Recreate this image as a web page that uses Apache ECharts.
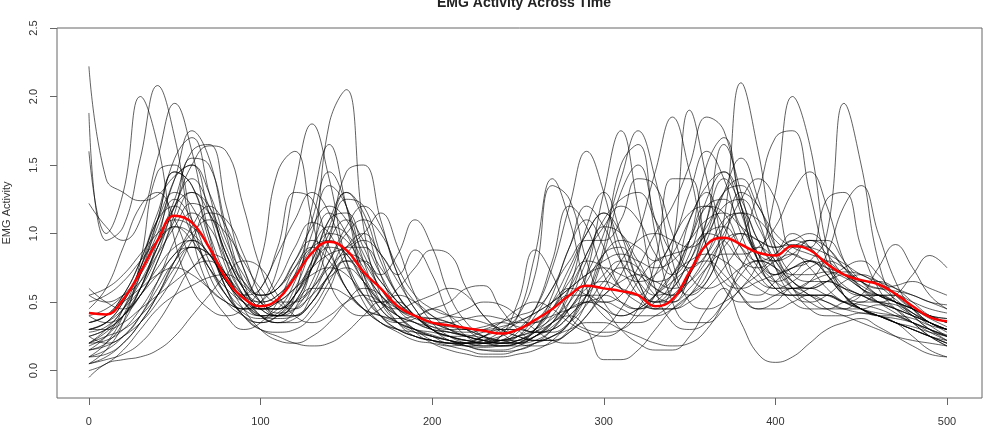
<!DOCTYPE html>
<html>
<head>
<meta charset="utf-8">
<script src="https://cdn.jsdelivr.net/npm/echarts@6/dist/echarts.min.js"></script>
<style>
html,body{margin:0;padding:0;background:#fff;}
#chart{width:987px;height:446px;}
</style>
</head>
<body>
<div id="chart"></div>
<script>
const titleText = "EMG Activity Across Time";
const yName = "EMG Activity";
const xTicks = [0, 100, 200, 300, 400, 500];
const yTicks = [0, 0.5, 1, 1.5, 2, 2.5];
const times = [0,10,20,30,40,50,60,70,80,90,100,110,120,130,140,150,160,170,180,190,200,210,220,230,240,250,260,270,280,290,300,310,320,330,340,350,360,370,380,390,400,410,420,430,440,450,460,470,480,490,500];

const curve01 = [2.22,1.40,1.30,1.24,1.28,1.42,1.50,1.30,0.95,0.70, 0.55,0.60,0.80,1.05,1.20,1.10,0.85,0.60,0.45,0.40, 0.38,0.35,0.30,0.25,0.22,0.25,0.35,0.50,0.60,0.55, 0.45,0.40,0.45,0.55,0.70,0.95,1.20,1.25,1.05,0.85, 0.80,0.90,0.95,0.85,0.70,0.65,0.65,0.60,0.50,0.40, 0.35];
const curve02 = [1.88,0.95,1.05,1.55,2.08,1.70,1.00,0.60,0.40,0.30, 0.35,0.50,0.75,0.90,0.80,0.60,0.45,0.35,0.28,0.22, 0.20,0.18,0.20,0.25,0.30,0.40,0.70,1.35,1.25,0.80, 0.50,0.40,0.45,0.55,0.65,0.75,0.80,0.70,0.55,0.45, 0.50,0.60,0.55,0.45,0.40,0.35,0.30,0.25,0.22,0.20, 0.18];
const curve03 = [1.60,1.00,1.30,2.00,1.65,0.95,0.60,0.45,0.40,0.45, 0.60,0.85,1.10,1.30,1.15,0.80,0.55,0.40,0.35,0.38, 0.45,0.40,0.30,0.22,0.18,0.20,0.30,0.50,0.75,1.00, 1.15,1.00,0.75,0.55,0.50,0.70,1.10,1.40,1.20,0.85, 0.70,0.75,0.80,0.70,0.55,0.50,0.55,0.55,0.45,0.35, 0.30];
const curve04 = [1.22,1.05,0.95,1.10,1.55,1.95,1.60,1.00,0.60,0.40, 0.35,0.40,0.55,0.80,1.00,0.95,0.75,0.55,0.45,0.40, 0.35,0.30,0.28,0.30,0.35,0.40,0.45,0.60,0.90,1.20, 1.05,0.80,0.65,0.55,0.60,0.80,1.00,0.95,0.80,0.75, 0.85,1.00,0.90,0.70,0.55,0.45,0.40,0.38,0.35,0.30, 0.25];
const curve05 = [0.30,0.35,0.50,0.75,1.05,1.40,1.75,1.55,1.00,0.60, 0.40,0.35,0.45,0.80,1.80,2.05,1.05,0.55,0.35,0.25, 0.22,0.20,0.20,0.25,0.30,0.30,0.28,0.30,0.40,0.55, 0.70,0.80,0.75,0.60,0.55,0.65,0.85,1.10,1.15,0.95, 0.75,0.60,0.55,0.55,0.50,0.45,0.40,0.35,0.30,0.25, 0.22];
const curve06 = [0.20,0.30,0.45,0.65,0.90,1.20,1.50,1.64,1.60,1.20, 0.75,0.50,0.45,0.60,0.95,1.45,1.50,1.10,0.70,0.50, 0.40,0.35,0.30,0.25,0.22,0.20,0.22,0.30,0.45,0.60, 0.65,0.60,0.55,0.50,0.60,0.80,1.00,1.05,0.90,0.80, 0.85,0.95,0.90,0.75,0.60,0.55,0.55,0.50,0.45,0.40, 0.38];
const curve07 = [0.15,0.25,0.45,0.75,1.10,1.20,1.00,0.75,0.55,0.45, 0.50,0.75,1.35,1.80,1.40,0.80,0.50,0.35,0.30,0.28, 0.25,0.22,0.20,0.18,0.20,0.25,0.40,0.60,0.80,0.95, 0.95,1.10,1.40,1.35,1.00,0.70,0.60,0.65,0.75,0.80, 0.75,0.65,0.55,0.50,0.45,0.42,0.40,0.35,0.30,0.25, 0.20];
const curve08 = [0.35,0.40,0.55,0.80,1.15,1.45,1.35,1.00,0.70,0.55, 0.80,1.45,1.60,1.10,0.65,0.45,0.40,0.45,0.55,0.50, 0.40,0.30,0.25,0.22,0.20,0.22,0.30,0.45,0.55,0.55, 0.50,0.55,0.75,1.00,1.20,1.50,1.85,1.75,1.20,0.80, 0.60,0.55,0.55,0.50,0.45,0.45,0.48,0.45,0.40,0.35, 0.30];
const curve09 = [0.25,0.30,0.40,0.60,0.95,1.40,1.50,1.15,0.75,0.50, 0.40,0.40,0.55,1.20,1.65,1.20,0.65,0.40,0.30,0.25, 0.22,0.20,0.18,0.17,0.18,0.20,0.25,0.35,0.45,0.50, 0.50,0.45,0.40,0.40,0.45,0.55,0.70,1.10,2.10,1.60, 0.90,0.65,0.60,0.65,0.70,0.65,0.55,0.50,0.45,0.40, 0.35];
const curve10 = [0.10,0.20,0.40,0.70,1.10,1.55,1.70,1.30,0.80,0.55, 0.45,0.45,0.50,0.60,0.75,0.85,0.80,0.65,0.50,0.40, 0.30,0.25,0.22,0.20,0.18,0.18,0.20,0.25,0.35,0.70, 1.30,1.75,1.20,0.60,0.35,0.30,0.35,0.50,0.70,0.80, 0.75,0.60,0.50,0.45,0.45,0.50,0.50,0.45,0.35,0.25, 0.18];
const curve11 = [0.40,0.45,0.55,0.70,0.95,1.25,1.60,1.65,1.20,0.75, 0.50,0.40,0.40,0.50,0.70,0.90,0.90,0.75,0.55,0.40, 0.30,0.25,0.25,0.28,0.30,0.30,0.28,0.30,0.40,0.55, 0.90,1.50,1.65,1.00,0.50,0.35,0.35,0.45,0.60,0.70, 0.80,0.85,0.75,0.60,0.50,0.45,0.42,0.40,0.35,0.28, 0.22];
const curve12 = [0.05,0.15,0.35,0.80,1.45,1.50,1.10,0.70,0.50,0.40, 0.35,0.40,0.50,0.60,0.60,0.55,0.45,0.40,0.35,0.30, 0.25,0.22,0.20,0.20,0.22,0.25,0.30,0.38,0.50,0.70, 1.00,1.40,1.75,1.40,0.80,0.50,0.45,0.50,0.60,0.80, 1.30,2.00,1.65,0.90,0.55,0.45,0.40,0.35,0.30,0.25, 0.20];
const curve13 = [0.30,0.35,0.45,0.60,0.85,1.20,1.40,1.20,0.85,0.60, 0.45,0.40,0.45,0.65,0.95,1.10,0.95,0.70,0.50,0.40, 0.35,0.30,0.25,0.22,0.20,0.22,0.28,0.35,0.45,0.55, 0.55,0.50,0.45,0.55,0.90,1.90,1.40,0.80,0.60,0.55, 0.65,0.75,0.80,0.70,0.55,0.45,0.40,0.40,0.38,0.33, 0.30];
const curve14 = [0.45,0.60,0.90,1.20,1.30,1.10,0.80,0.60,0.50,0.45, 0.45,0.50,0.60,0.70,0.75,0.70,0.55,0.40,0.30,0.25, 0.22,0.20,0.20,0.22,0.25,0.30,0.35,0.40,0.45,0.50, 0.55,0.70,1.00,1.45,1.85,1.45,0.90,0.65,0.60,0.65, 0.70,0.75,0.80,1.00,1.95,1.50,0.80,0.50,0.40,0.30, 0.22];
const curve15 = [0.55,0.50,0.55,0.65,0.85,1.05,1.22,1.15,0.85,0.60, 0.50,0.55,0.70,1.10,1.45,1.20,0.70,0.45,0.35,0.30, 0.28,0.25,0.22,0.20,0.22,0.30,0.45,0.75,1.20,1.60, 1.30,0.80,0.55,0.45,0.45,0.50,0.60,0.75,0.95,1.30, 1.70,1.75,1.30,0.80,0.55,0.45,0.40,0.35,0.32,0.28, 0.25];
const curve16 = [0.20,0.25,0.30,0.40,0.55,0.75,0.90,0.85,0.70,0.55, 0.60,0.90,1.30,1.25,0.90,0.60,0.45,0.35,0.30,0.25, 0.22,0.20,0.18,0.20,0.25,0.40,0.85,1.40,1.10,0.60, 0.40,0.35,0.35,0.40,0.50,0.70,1.10,1.65,1.30,0.80, 0.60,0.55,0.55,0.55,0.50,0.48,0.45,0.40,0.35,0.30, 0.25];
const curve17 = [0.10,0.15,0.25,0.40,0.60,0.80,0.90,0.85,0.70,0.55, 0.45,0.45,0.55,0.75,1.05,1.30,1.10,0.70,0.45,0.35, 0.30,0.28,0.25,0.22,0.22,0.28,0.45,0.80,1.20,1.05, 0.70,0.50,0.45,0.50,0.65,0.95,1.50,1.70,1.20,0.80, 0.65,0.60,0.65,0.85,1.20,1.35,1.00,0.65,0.45,0.35, 0.30];
const curve18 = [0.25,0.30,0.40,0.55,0.75,0.90,0.95,0.85,0.65,0.50, 0.40,0.40,0.50,0.75,1.10,1.15,0.90,0.70,0.85,1.10, 0.90,0.55,0.35,0.25,0.20,0.20,0.25,0.35,0.60,1.05, 1.30,1.00,0.65,0.50,0.50,0.60,0.75,0.85,0.85,0.90, 1.05,1.30,1.45,1.20,0.80,0.60,0.50,0.45,0.40,0.35, 0.30];
const curve19 = [0.15,0.20,0.35,0.60,0.90,1.05,0.95,0.75,0.60,0.50, 0.45,0.50,0.60,0.75,0.85,0.90,1.00,1.15,0.90,0.55, 0.35,0.25,0.20,0.18,0.18,0.20,0.30,0.55,0.90,1.10, 0.90,0.60,0.55,0.80,1.40,1.40,0.90,0.60,0.50,0.50, 0.55,0.60,0.60,0.55,0.50,0.45,0.40,0.35,0.30,0.25, 0.20];
const curve20 = [0.35,0.40,0.50,0.60,0.70,0.75,0.70,0.60,0.50,0.45, 0.50,0.65,0.90,1.08,1.00,0.75,0.55,0.50,0.60,0.75, 0.88,0.85,0.60,0.40,0.30,0.25,0.22,0.25,0.35,0.55, 0.85,0.90,0.65,0.45,0.60,1.10,1.30,0.90,0.55,0.45, 0.45,0.50,0.55,0.55,0.50,0.55,0.75,0.92,0.75,0.55, 0.45];
const curve21 = [0.05,0.10,0.20,0.35,0.55,0.80,0.95,0.85,0.65,0.50, 0.40,0.38,0.40,0.50,0.70,0.90,1.00,0.85,0.70,0.88, 0.70,0.40,0.25,0.20,0.25,0.50,0.88,0.70,0.40,0.30, 0.28,0.30,0.40,0.55,0.70,0.80,0.85,0.80,0.70,0.60, 0.55,0.55,0.60,0.65,0.60,0.55,0.50,0.55,0.70,0.84, 0.75];
const curve22 = [0.30,0.30,0.35,0.45,0.55,0.65,0.75,0.85,0.80,0.65, 0.55,0.60,0.80,0.95,0.85,0.60,0.45,0.40,0.38,0.40, 0.45,0.50,0.60,0.62,0.45,0.30,0.22,0.22,0.30,0.50, 0.85,1.30,1.50,1.10,0.70,0.55,0.65,0.95,1.30,1.20, 0.90,0.70,0.65,0.65,0.60,0.55,0.50,0.45,0.40,0.35, 0.30];
const curve23 = [0.00,0.05,0.15,0.30,0.45,0.55,0.62,0.68,0.70,0.62, 0.50,0.42,0.45,0.55,0.68,0.75,0.65,0.50,0.45,0.50, 0.55,0.60,0.55,0.40,0.28,0.20,0.18,0.20,0.28,0.40, 0.55,0.65,0.70,0.65,0.60,0.65,0.80,1.00,1.25,1.40, 1.25,0.90,0.90,1.25,1.30,0.90,0.60,0.45,0.35,0.25, 0.18];
const curve24 = [-0.05,0.05,0.08,0.10,0.15,0.25,0.40,0.55,0.70,0.80, 0.75,0.55,0.40,0.35,0.40,0.50,0.55,0.50,0.40,0.30, 0.22,0.18,0.15,0.12,0.12,0.15,0.20,0.25,0.30,0.35, 0.35,0.30,0.25,0.20,0.18,0.20,0.30,0.50,0.75,0.90, 0.80,0.60,0.45,0.40,0.40,0.42,0.40,0.35,0.25,0.15, 0.10];
const curve25 = [0.05,0.08,0.12,0.20,0.35,0.55,0.75,0.80,0.65,0.45, 0.30,0.22,0.20,0.25,0.35,0.50,0.60,0.55,0.40,0.28, 0.20,0.15,0.12,0.10,0.10,0.12,0.15,0.22,0.35,0.50, 0.45,0.30,0.20,0.15,0.15,0.25,0.45,0.60,0.35,0.12, 0.06,0.10,0.20,0.30,0.35,0.38,0.32,0.25,0.18,0.12, 0.10];
const curve26 = [0.20,0.22,0.30,0.45,0.65,0.85,0.90,0.75,0.55,0.40, 0.30,0.25,0.20,0.18,0.20,0.28,0.40,0.50,0.50,0.40, 0.30,0.22,0.18,0.15,0.15,0.18,0.25,0.35,0.40,0.30, 0.08,0.08,0.15,0.30,0.45,0.55,0.65,0.90,1.00,0.85, 0.65,0.50,0.45,0.45,0.50,0.55,0.55,0.50,0.40,0.30, 0.25];
const curve27 = [0.50,0.55,0.65,0.80,0.95,1.05,1.00,0.85,0.65,0.50, 0.40,0.35,0.35,0.45,0.65,0.85,0.95,0.85,0.65,0.45, 0.30,0.25,0.22,0.25,0.35,0.45,0.50,0.45,0.35,0.28, 0.25,0.30,0.45,0.70,0.95,1.15,1.20,1.05,0.80,0.65, 0.60,0.65,0.75,0.80,0.75,0.65,0.60,0.58,0.55,0.50, 0.48];
const curve28 = [0.20,0.28,0.40,0.55,0.70,0.85,1.00,1.10,1.00,0.80, 0.60,0.50,0.50,0.60,0.80,1.00,1.10,1.00,0.75,0.55, 0.45,0.40,0.38,0.35,0.30,0.25,0.22,0.22,0.28,0.40, 0.60,0.80,0.95,1.00,0.95,0.90,1.00,1.20,1.25,1.05, 0.80,0.65,0.60,0.65,0.75,0.80,0.70,0.55,0.45,0.40, 0.38];
const curve29 = [0.60,0.50,0.45,0.55,0.80,1.10,1.30,1.20,0.90,0.65, 0.55,0.60,0.75,0.90,0.95,0.85,0.65,0.50,0.40,0.35, 0.32,0.30,0.30,0.32,0.35,0.32,0.28,0.28,0.35,0.48, 0.65,0.75,0.70,0.60,0.55,0.70,1.00,1.30,1.40,1.20, 1.00,0.90,0.85,0.80,0.70,0.60,0.55,0.55,0.50,0.45, 0.42];
const curve30 = [0.15,0.18,0.25,0.35,0.50,0.70,0.95,1.15,1.10,0.85, 0.55,0.40,0.40,0.55,0.80,1.05,1.20,1.05,0.70,0.45, 0.35,0.35,0.38,0.40,0.38,0.35,0.35,0.45,0.65,0.80, 0.75,0.60,0.50,0.45,0.45,0.55,0.75,0.95,1.00,0.95, 0.90,0.95,1.00,0.90,0.75,0.65,0.60,0.62,0.65,0.60, 0.55];
const curve31 = [0.35,0.40,0.55,0.80,1.10,1.30,1.20,0.90,0.60,0.40, 0.30,0.28,0.30,0.40,0.60,0.80,0.80,0.65,0.50,0.40, 0.38,0.40,0.45,0.50,0.48,0.40,0.30,0.22,0.20,0.22, 0.30,0.45,0.65,0.80,0.85,0.90,1.05,1.30,1.35,1.10, 0.75,0.55,0.50,0.55,0.65,0.70,0.65,0.55,0.45,0.35, 0.30];
const curve32 = [0.25,0.20,0.25,0.40,0.65,0.95,1.15,1.05,0.80,0.55, 0.40,0.35,0.38,0.50,0.70,0.80,0.70,0.55,0.40,0.30, 0.25,0.20,0.20,0.22,0.28,0.35,0.42,0.50,0.60,0.70, 0.75,0.70,0.65,0.70,0.85,1.10,1.35,1.45,1.25,0.95, 0.80,0.85,0.95,0.90,0.75,0.60,0.55,0.50,0.42,0.35, 0.28];
const curve33 = [0.30,0.35,0.50,0.75,1.10,1.45,1.35,0.95,0.60,0.45, 0.40,0.45,0.65,1.00,1.35,1.20,0.80,0.50,0.35,0.28, 0.25,0.22,0.20,0.20,0.22,0.25,0.30,0.45,0.70,1.00, 1.15,0.90,0.60,0.50,0.55,0.70,0.95,1.30,1.55,1.25, 0.85,0.70,0.70,0.72,0.68,0.60,0.50,0.42,0.35,0.30, 0.26];
const curve34 = [0.18,0.25,0.40,0.60,0.90,1.20,1.30,1.15,0.85,0.60, 0.45,0.40,0.50,0.75,1.00,1.25,1.20,0.85,0.55,0.40, 0.32,0.28,0.25,0.22,0.20,0.20,0.25,0.35,0.55,0.85, 1.05,1.20,1.10,0.85,0.70,0.85,1.25,1.45,1.15,0.80, 0.70,0.80,0.95,0.95,0.80,0.65,0.55,0.50,0.45,0.38, 0.32];
const curve35 = [0.40,0.35,0.40,0.55,0.80,1.15,1.55,1.50,1.05,0.65, 0.45,0.45,0.60,0.90,1.15,1.00,0.70,0.50,0.40,0.35, 0.30,0.28,0.26,0.24,0.22,0.22,0.25,0.32,0.45,0.65, 0.85,0.95,0.90,0.80,0.95,1.30,1.60,1.40,1.00,0.75, 0.65,0.70,0.80,0.75,0.62,0.55,0.50,0.48,0.42,0.35, 0.30];
const curve36 = [0.10,0.12,0.20,0.35,0.55,0.80,1.05,1.20,1.05,0.75, 0.50,0.45,0.55,0.80,1.10,1.30,1.15,0.80,0.55,0.40, 0.30,0.25,0.22,0.20,0.20,0.22,0.28,0.40,0.60,0.85, 1.10,1.25,1.30,1.10,0.85,0.75,0.85,1.05,1.15,1.10, 0.95,0.85,0.80,0.75,0.70,0.62,0.55,0.50,0.45,0.40, 0.35];
const curve37 = [0.28,0.32,0.45,0.70,1.00,1.25,1.10,0.80,0.55,0.42, 0.38,0.42,0.55,0.75,0.90,0.85,0.65,0.45,0.35,0.30, 0.26,0.22,0.18,0.15,0.14,0.15,0.20,0.30,0.50,0.80, 1.05,1.00,0.80,0.65,0.70,0.95,1.20,1.15,0.90,0.70, 0.60,0.60,0.65,0.70,0.72,0.70,0.62,0.52,0.42,0.33, 0.25];
const curve38 = [0.55,0.60,0.70,0.85,1.00,1.10,1.05,0.90,0.70,0.55, 0.50,0.55,0.70,0.90,1.05,1.00,0.80,0.60,0.45,0.38, 0.34,0.32,0.30,0.30,0.32,0.36,0.42,0.50,0.60,0.70, 0.80,0.85,0.80,0.75,0.80,0.95,1.10,1.15,1.05,0.95, 0.90,0.92,0.90,0.85,0.78,0.70,0.65,0.60,0.55,0.50, 0.45];

const meanCurve = [0.42,0.41,0.52,0.72,0.95,1.13,1.08,0.90,0.67,0.53, 0.47,0.52,0.68,0.86,0.94,0.88,0.72,0.60,0.47,0.40, 0.35,0.33,0.31,0.29,0.27,0.30,0.37,0.45,0.55,0.62, 0.60,0.58,0.55,0.47,0.52,0.72,0.92,0.97,0.92,0.86, 0.84,0.91,0.88,0.78,0.70,0.66,0.63,0.56,0.47,0.39, 0.36];

const curves = [curve01,curve02,curve03,curve04,curve05,curve06,curve07,curve08,curve09,curve10,curve11,curve12,curve13,curve14,curve15,curve16,curve17,curve18,curve19,curve20,curve21,curve22,curve23,curve24,curve25,curve26,curve27,curve28,curve29,curve30,curve31,curve32,curve33,curve34,curve35,curve36,curve37,curve38];

const pair = arr => times.map((t, i) => [t, arr[i]]);
const series = curves.map(c => ({
  type: 'line', data: pair(c), symbol: 'none', smooth: 0.45, silent: true,
  lineStyle: { color: 'rgba(0,0,0,0.62)', width: 1 }, z: 2
}));
series.push({
  type: 'line', data: pair(meanCurve), symbol: 'none', smooth: 0.45, silent: true,
  lineStyle: { color: '#ff0000', width: 2.5 }, z: 5
});

const FONT = 'Liberation Sans, Arial, sans-serif';
const chart = echarts.init(document.getElementById('chart'), null, { renderer: 'canvas' });
chart.setOption({
  animation: false,
  backgroundColor: '#ffffff',
  title: {
    text: titleText, left: 519, textAlign: 'center', top: -9,
    textStyle: { fontFamily: FONT, fontSize: 14, fontWeight: 'bold', color: '#222' }
  },
  grid: { left: 57, right: 5, top: 28, bottom: 48, show: true, borderColor: '#666', borderWidth: 1,
    backgroundColor: 'transparent', containLabel: false, outerBoundsMode: 'none' },
  xAxis: {
    type: 'value', min: -18.6, max: 520.4,
    splitLine: { show: false },
    axisLine: { show: false, onZero: false },
    axisTick: { show: true, length: 7, customValues: xTicks, lineStyle: { color: '#666' } },
    axisLabel: { customValues: xTicks, margin: 18, fontSize: 11, color: '#333', fontFamily: FONT }
  },
  yAxis: {
    type: 'value', min: -0.2, max: 2.5,
    name: yName, nameLocation: 'middle', nameGap: 45, nameRotate: 90,
    nameTextStyle: { fontSize: 11, color: '#333', fontFamily: FONT },
    splitLine: { show: false },
    axisLine: { show: false, onZero: false },
    axisTick: { show: true, length: 7, customValues: yTicks, lineStyle: { color: '#666' } },
    axisLabel: { customValues: yTicks, rotate: 90, margin: 18, fontSize: 11, color: '#333',
      fontFamily: FONT, formatter: v => v.toFixed(1) }
  },
  series: series
});
</script>
</body>
</html>
